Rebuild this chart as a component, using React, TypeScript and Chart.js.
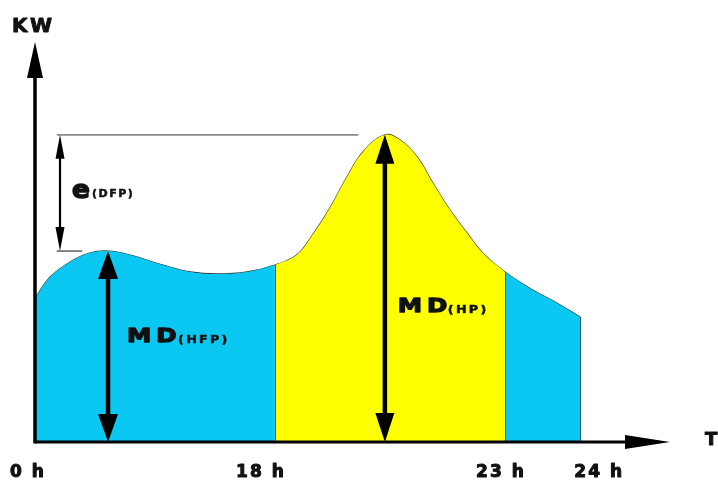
import React, { useEffect, useRef } from 'react';
import { Chart, registerables } from 'chart.js';

Chart.register(...registerables);

// Diagram units: x = position along the (not-to-scale) time axis, 0..100; y = load (KW), 0..100
const offPeakMorningX = [0, 2.2, 5.4, 8.5, 11.4, 14.9, 20.1, 24.4, 28.6, 33.4, 37.8];
const offPeakMorningY = [36.1, 41.0, 44.8, 47.0, 47.5, 46.5, 44.0, 42.3, 41.8, 42.3, 44.0];

const peakX = [37.8, 41.3, 43.8, 46.5, 49.2, 51.7, 55.2, 57.6, 60.3, 62.8, 65.5, 68.2, 70.7, 74.2];
const peakY = [44.0, 46.6, 51.6, 58.2, 65.9, 72.1, 76.4, 75.1, 70.9, 64.4, 57.7, 52.0, 47.0, 42.3];

const offPeakNightX = [74.2, 78.6, 82.4, 86.1];
const offPeakNightY = [42.3, 37.8, 34.6, 31.1];

const tickLabels = ['0 h', '18 h', '23 h', '24 h'];
const tickPositions = [0, 37.8, 74.2, 86.1];

const axisYTitle = 'KW';
const axisXTitle = 'T';

const BLUE = '#0bc8f2';
const YELLOW = '#ffff00';

export default function App() {
  const ref = useRef<HTMLCanvasElement>(null);

  useEffect(() => {
    const canvas = ref.current!;
    const toPts = (xs: number[], ys: number[]) => xs.map((x, i) => ({ x, y: ys[i] }));
    const allX = [...offPeakMorningX, ...peakX.slice(1), ...offPeakNightX.slice(1)];
    const allY = [...offPeakMorningY, ...peakY.slice(1), ...offPeakNightY.slice(1)];

    const hfpMax = Math.max(...offPeakMorningY);
    const hfpMaxX = offPeakMorningX[offPeakMorningY.indexOf(hfpMax)];
    const hpMax = Math.max(...peakY);
    const hpMaxX = peakX[peakY.indexOf(hpMax)];

    const overlay = {
      id: 'overlay',
      afterDatasetsDraw(chart: any) {
        const ctx: CanvasRenderingContext2D = chart.ctx;
        const xs = chart.scales.x;
        const ys = chart.scales.y;
        const X = (v: number) => xs.getPixelForValue(v);
        const Y = (v: number) => ys.getPixelForValue(v);
        ctx.save();

        // period dividers and right edge
        ctx.strokeStyle = '#2d6a3a';
        ctx.lineWidth = 1;
        const dividers = [
          [peakX[0], peakY[0]],
          [offPeakNightX[0], offPeakNightY[0]],
        ];
        dividers.forEach(([dx, dy]) => {
          ctx.beginPath();
          ctx.moveTo(Math.round(X(dx)) + 0.5, Y(0));
          ctx.lineTo(Math.round(X(dx)) + 0.5, Y(dy));
          ctx.stroke();
        });
        ctx.strokeStyle = '#1d5a78';
        const endX = offPeakNightX[offPeakNightX.length - 1];
        const endY = offPeakNightY[offPeakNightY.length - 1];
        ctx.beginPath();
        ctx.moveTo(Math.round(X(endX)) + 0.5, Y(0));
        ctx.lineTo(Math.round(X(endX)) + 0.5, Y(endY));
        ctx.stroke();

        // reference lines
        ctx.strokeStyle = '#8a8a8a';
        ctx.lineWidth = 1.6;
        ctx.beginPath();
        ctx.moveTo(X(3.3), Y(hpMax));
        ctx.lineTo(X(51), Y(hpMax));
        ctx.stroke();
        ctx.strokeStyle = '#333';
        ctx.lineWidth = 1.2;
        ctx.beginPath();
        ctx.moveTo(X(3.3), Y(hfpMax));
        ctx.lineTo(X(7.3), Y(hfpMax));
        ctx.stroke();

        const doubleArrow = (x: number, yTop: number, yBot: number, lw: number, hl: number, hw: number) => {
          ctx.fillStyle = '#000';
          ctx.strokeStyle = '#000';
          ctx.lineWidth = lw;
          ctx.beginPath();
          ctx.moveTo(x, yTop + hl - 2);
          ctx.lineTo(x, yBot - hl + 2);
          ctx.stroke();
          ctx.beginPath();
          ctx.moveTo(x, yTop);
          ctx.lineTo(x - hw, yTop + hl);
          ctx.lineTo(x + hw, yTop + hl);
          ctx.closePath();
          ctx.fill();
          ctx.beginPath();
          ctx.moveTo(x, yBot);
          ctx.lineTo(x - hw, yBot - hl);
          ctx.lineTo(x + hw, yBot - hl);
          ctx.closePath();
          ctx.fill();
        };

        doubleArrow(X(3.8), Y(hpMax), Y(hfpMax), 2.2, 24, 4.5);
        doubleArrow(X(hfpMaxX), Y(hfpMax), Y(0), 4.5, 28, 10);
        doubleArrow(X(hpMaxX), Y(hpMax), Y(0), 4.5, 29, 9.5);

        // axes
        ctx.fillStyle = '#000';
        ctx.strokeStyle = '#000';
        ctx.lineWidth = 3.5;
        const ax = X(0) - 1;
        ctx.beginPath();
        ctx.moveTo(ax, Y(0) + 1.5);
        ctx.lineTo(ax, Y(100) + 30);
        ctx.stroke();
        ctx.beginPath();
        ctx.moveTo(ax, Y(100) + 2);
        ctx.lineTo(ax - 8, Y(100) + 38);
        ctx.lineTo(ax + 8, Y(100) + 38);
        ctx.closePath();
        ctx.fill();

        ctx.lineWidth = 3;
        ctx.beginPath();
        ctx.moveTo(ax, Y(0));
        ctx.lineTo(X(100) - 40, Y(0));
        ctx.stroke();
        ctx.beginPath();
        ctx.moveTo(X(100) + 2, Y(0));
        ctx.lineTo(X(100) - 43, Y(0) - 7);
        ctx.lineTo(X(100) - 43, Y(0) + 7);
        ctx.closePath();
        ctx.fill();

        const font = (px: number) => `bold ${px}px "DejaVu Sans", "Liberation Sans", sans-serif`;
        const text = (
          s: string, x: number, y: number, px: number, spacing: number,
          align: CanvasTextAlign = 'left', heavy = 0.9, sx = 1,
        ) => {
          ctx.save();
          ctx.translate(x, y);
          ctx.scale(sx, 1);
          ctx.font = font(px);
          (ctx as any).letterSpacing = `${spacing}px`;
          ctx.textAlign = align;
          ctx.textBaseline = 'alphabetic';
          ctx.fillStyle = '#111';
          ctx.strokeStyle = '#111';
          ctx.lineJoin = 'round';
          ctx.fillText(s, 0, 0);
          if (heavy > 0) {
            ctx.lineWidth = heavy;
            ctx.strokeText(s, 0, 0);
          }
          ctx.restore();
        };

        // axis titles
        text(axisYTitle, ax - 23, Y(100) - 8, 20, 2.5, 'left', 1);
        text(axisXTitle, X(100) + 37, Y(0) + 3, 18, 0, 'left', 1);

        // tick labels
        const labelOffsets = [-9, -15, -5, 18];
        tickLabels.forEach((lab, i) => {
          text(lab, X(tickPositions[i]) + labelOffsets[i] + 1, Y(0) + 35, 17, 2, 'center', 1);
        });

        // annotations
        text('e', X(3.8) + 12, Y(hpMax) + 63, 25, 0, 'left', 1.6, 1.05);
        text('(DFP)', X(3.8) + 32, Y(hpMax) + 62, 11, 1.5, 'left', 0.5);

        text('MD', X(hfpMaxX) + 19, Y(0) - 100, 20, 4, 'left', 1.3, 1.22);
        text('(HFP)', X(hfpMaxX) + 70, Y(0) - 99, 11, 2, 'left', 0.5, 1.15);

        text('MD', X(hpMaxX) + 13, Y(0) - 130, 20, 4, 'left', 1.3, 1.22);
        text('(HP)', X(hpMaxX) + 63, Y(0) - 129, 11, 2, 'left', 0.5, 1.15);

        ctx.restore();
      },
    };

    const common = { pointRadius: 0, tension: 0.4 };
    const chart = new Chart(canvas, {
      type: 'line',
      data: {
        datasets: [
          { data: toPts(offPeakMorningX, offPeakMorningY), fill: 'origin', backgroundColor: BLUE, borderWidth: 0, ...common },
          { data: toPts(peakX, peakY), fill: 'origin', backgroundColor: YELLOW, borderWidth: 0, ...common },
          { data: toPts(offPeakNightX, offPeakNightY), fill: 'origin', backgroundColor: BLUE, borderWidth: 0, ...common },
          { data: toPts(allX, allY), fill: false, borderColor: '#2f3b35', borderWidth: 1.2, ...common },
        ],
      } as any,
      options: {
        responsive: false,
        animation: false,
        events: [],
        layout: { padding: { left: 36, right: 50, top: 40, bottom: 38 } },
        plugins: { legend: { display: false }, tooltip: { enabled: false } },
        scales: {
          x: { type: 'linear', min: 0, max: 100, display: false },
          y: { min: 0, max: 100, display: false },
        },
      } as any,
      plugins: [overlay],
    });
    return () => chart.destroy();
  }, []);

  return (
    <div style={{ position: 'fixed', left: 0, top: 0, width: 718, height: 480, background: '#fff' }}>
      <canvas ref={ref} width={718} height={480} style={{ display: 'block' }} />
    </div>
  );
}
